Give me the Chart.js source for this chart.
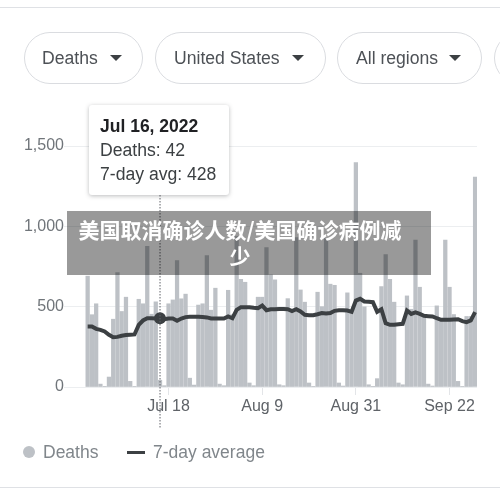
<!DOCTYPE html>
<html>
<head>
<meta charset="utf-8">
<script src="https://cdn.jsdelivr.net/npm/chart.js@4"></script>
<style>
  html, body { margin: 0; padding: 0; background: #fff; }
  body { width: 500px; height: 488px; overflow: hidden; position: relative; font-family: "Liberation Sans", sans-serif; }
  canvas { position: absolute; left: 0; top: 0; }
  .rule { position: absolute; left: 0; width: 500px; height: 1px; background: #dfe1e5; }
  .pill { position: absolute; top: 32px; height: 50px; box-sizing: content-box; border: 1px solid #dadce0; border-radius: 26px; font-size: 17.6px; line-height: 50px; color: #4d5156; white-space: nowrap; }
  .pill span { position: absolute; top: 0; }
  .pill i { position: absolute; top: 22px; width: 0; height: 0; border-left: 6px solid transparent; border-right: 6px solid transparent; border-top: 6px solid #3c4043; }
  #tip { position: absolute; left: 89px; top: 105px; width: 140px; height: 90px; background: #fff; border-radius: 3px; box-shadow: 0 1px 4px rgba(60,64,67,.35); color: #3c4043; font-size: 17.6px; }
  #tip div { position: absolute; left: 11px; white-space: nowrap; }
  #tip .t { font-weight: bold; font-size: 17.5px; color: #202124; top: 11px; }
  #banner { position: absolute; left: 67px; top: 211px; width: 364px; height: 64px; background: rgba(0,0,0,.4); color: #fff; font: bold 21px/26px "Noto Sans CJK SC", sans-serif; text-align: center; padding: 5px 18px 0 0; box-sizing: border-box; white-space: nowrap; }
  .leg { position: absolute; top: 441px; font-size: 17.5px; line-height: 22px; color: #80868b; white-space: nowrap; }
  #ldot { position: absolute; left: 23px; top: 446px; width: 12px; height: 12px; border-radius: 50%; background: #bdc1c6; }
  #lline { position: absolute; left: 127px; top: 451px; width: 18px; height: 3px; background: #3c4043; }
</style>
</head>
<body>
<canvas id="chart" width="500" height="488"></canvas>
<div class="rule" style="top:7px"></div>
<div class="rule" style="top:487px"></div>
<div class="pill" style="left:24px;width:117px"><span style="left:17px">Deaths</span><i style="left:85px"></i></div>
<div class="pill" style="left:155px;width:169px"><span style="left:18px">United States</span><i style="left:136px"></i></div>
<div class="pill" style="left:337px;width:143px"><span style="left:18px">All regions</span><i style="left:111px"></i></div>
<div class="pill" style="left:494px;width:60px"></div>
<div id="tip"></div>
<div id="banner">美国取消确诊人数/美国确诊病例减<br>少</div>
<div id="ldot"></div><div class="leg" style="left:43px">Deaths</div>
<div id="lline"></div><div class="leg" style="left:153px">7-day average</div>
<script>
const days = [
  'Jun 29','Jun 30','Jul 1','Jul 2','Jul 3','Jul 4','Jul 5','Jul 6','Jul 7','Jul 8','Jul 9','Jul 10','Jul 11','Jul 12','Jul 13','Jul 14','Jul 15','Jul 16','Jul 17','Jul 18','Jul 19','Jul 20','Jul 21','Jul 22','Jul 23','Jul 24','Jul 25','Jul 26','Jul 27','Jul 28','Jul 29',
  'Jul 30','Jul 31','Aug 1','Aug 2','Aug 3','Aug 4','Aug 5','Aug 6','Aug 7','Aug 8','Aug 9','Aug 10','Aug 11','Aug 12','Aug 13','Aug 14','Aug 15','Aug 16','Aug 17','Aug 18','Aug 19','Aug 20','Aug 21','Aug 22','Aug 23','Aug 24','Aug 25','Aug 26','Aug 27','Aug 28','Aug 29','Aug 30','Aug 31',
  'Sep 1','Sep 2','Sep 3','Sep 4','Sep 5','Sep 6','Sep 7','Sep 8','Sep 9','Sep 10','Sep 11','Sep 12','Sep 13','Sep 14','Sep 15','Sep 16','Sep 17','Sep 18','Sep 19','Sep 20','Sep 21','Sep 22','Sep 23','Sep 24','Sep 25','Sep 26','Sep 27','Sep 28'
];
const deaths = [
  690,450,518,18,2,62,422,712,470,559,35,4,546,518,875,453,530,42,8,518,542,787,549,578,55,12,510,518,818,
  478,615,18,8,602,450,936,670,652,25,8,559,559,867,698,667,14,8,550,480,930,604,528,25,4,590,500,925,640,633,25,6,
  586,470,1397,708,499,14,2,52,625,824,670,528,25,14,567,484,915,621,439,18,6,505,428,915,621,451,35,4,439,439,1306
];
const avg7 = [
  377,377,362,356,346,325,310,312,319,323,325,327,387,414,428,428,426,428,422,426,426,412,426,435,437,437,437,435,433,
  426,426,426,426,439,428,480,497,497,497,493,491,507,478,484,484,486,486,484,472,484,470,449,447,447,453,460,457,460,474,478,
  478,476,468,538,549,532,530,528,468,484,397,387,387,391,393,476,455,464,455,443,441,439,428,418,418,418,420,422,410,404,414,466
];
const xTickLabels = ['Jul 18', 'Aug 9', 'Aug 31', 'Sep 22'];
const yTicks = [0, 500, 1000, 1500];
const activeDay = 'Jul 16';
const activeIndex = days.indexOf(activeDay);

document.getElementById('tip').innerHTML =
  `<div class="t">${activeDay}, 2022</div>` +
  `<div style="top:35px">Deaths: ${deaths[activeIndex]}</div>` +
  `<div style="top:59px">7-day avg: ${avg7[activeIndex]}</div>`;

// dotted cursor through the hovered day
const cursorPlugin = {
  id: 'cursor',
  afterDatasetsDraw(chart) {
    const { ctx, scales: { x } } = chart;
    const px = x.getPixelForValue(activeIndex);
    ctx.save();
    ctx.strokeStyle = '#5f6368';
    ctx.lineWidth = 1;
    ctx.setLineDash([1.5, 1.5]);
    ctx.beginPath();
    ctx.moveTo(px, 195);
    ctx.lineTo(px, 428);
    ctx.stroke();
    ctx.restore();
  }
};

new Chart(document.getElementById('chart').getContext('2d'), {
  data: {
    datasets: [
      {
        type: 'line',
        label: '7-day average',
        data: avg7.map((v, i) => ({ x: i, y: v })),
        borderColor: '#3c4043',
        borderWidth: 4,
        tension: 0,
        pointRadius: ctx => ctx.dataIndex === activeIndex ? 6 : 0,
        pointBackgroundColor: '#3c4043',
        pointBorderWidth: 0,
        order: 1
      },
      {
        type: 'bar',
        label: 'Deaths',
        data: deaths.map((v, i) => ({ x: i, y: v })),
        backgroundColor: '#bdc1c6',
        barThickness: 3.6,
        order: 2
      }
    ]
  },
  options: {
    responsive: false,
    animation: false,
    layout: { padding: { left: 0, right: 23, top: 146, bottom: 71 } },
    plugins: { legend: { display: false }, tooltip: { enabled: false } },
    scales: {
      x: {
        type: 'linear',
        offset: false,
        min: -4.38,
        max: 91.45,
        afterFit: s => { s.height = 30; },
        afterBuildTicks: s => { s.ticks = xTickLabels.map(l => ({ value: days.indexOf(l) })); },
        grid: { offset: false, drawOnChartArea: false, color: '#e3e5e8', tickLength: 8 },
        border: { display: false },
        ticks: {
          autoSkip: false,
          maxRotation: 0,
          padding: 2,
          color: '#5f6368',
          font: { family: "'Liberation Sans'", size: 16 },
          callback: v => days[v]
        }
      },
      y: {
        min: 0,
        max: 1500,
        afterFit: s => { s.width = 69; },
        afterBuildTicks: s => { s.ticks = yTicks.map(v => ({ value: v })); },
        grid: { color: '#eceef0', tickLength: 5 },
        border: { display: false },
        ticks: {
          padding: 0,
          color: '#70757a',
          font: { family: "'Liberation Sans'", size: 16 },
          callback: v => v.toLocaleString('en-US')
        }
      }
    }
  },
  plugins: [cursorPlugin]
});
</script>
</body>
</html>
